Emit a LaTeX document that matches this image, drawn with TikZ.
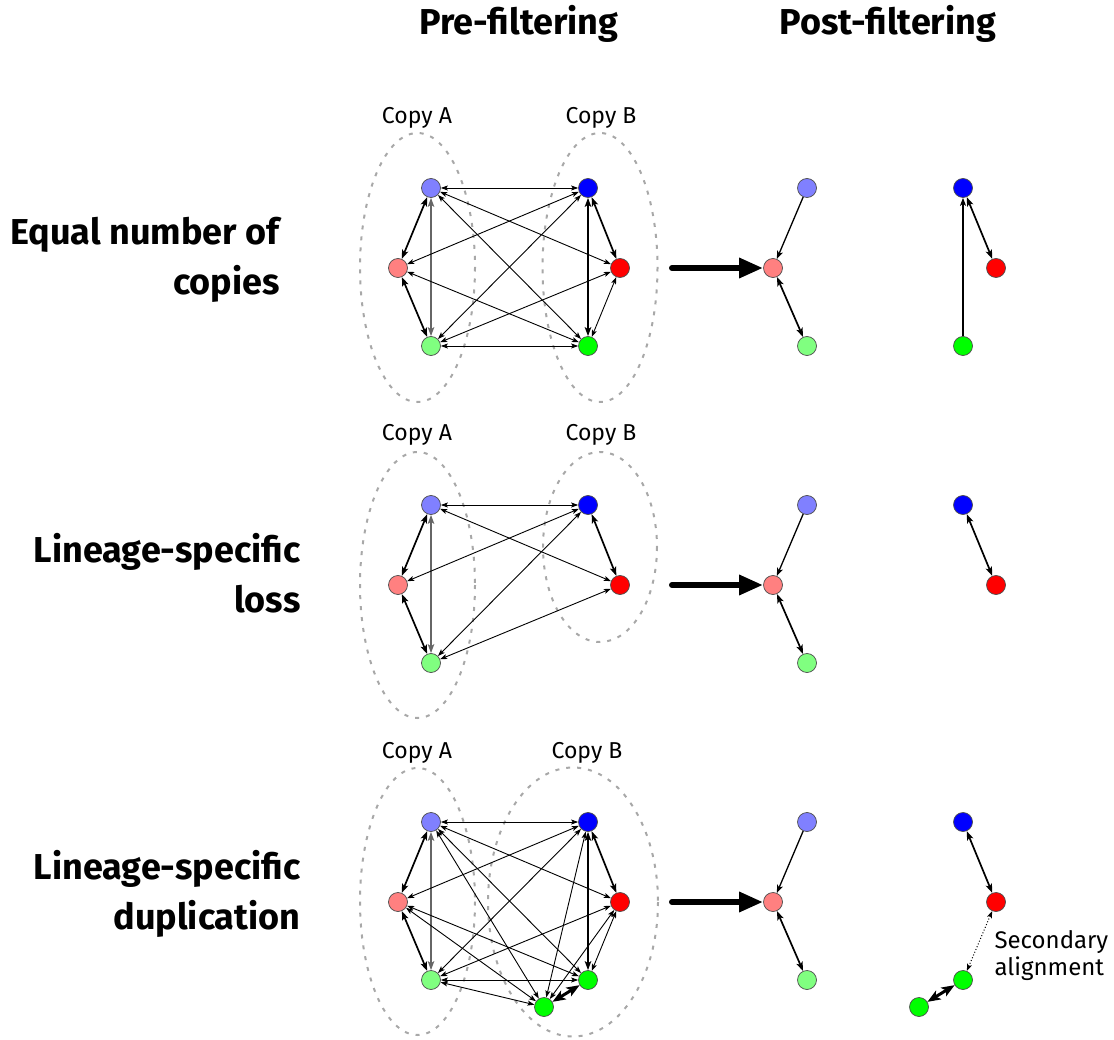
\documentclass[tikz,border=0pt]{standalone}
\usepackage{fontspec}
\setmainfont{Fira Sans}
\usetikzlibrary{arrows.meta}

\definecolor{clblue}{HTML}{8080FF}
\definecolor{cpink}{HTML}{FF8080}
\definecolor{clgreen}{HTML}{80FF80}
\definecolor{cblue}{HTML}{0000FF}
\definecolor{cred}{HTML}{FF0000}
\definecolor{cgreen}{HTML}{00FF00}
\definecolor{setgray}{HTML}{A8A8A8}

\begin{document}
\begin{tikzpicture}[x=1pt,y=-1pt,
  vtx/.style={circle, draw=black!70, line width=0.7pt, minimum size=19pt, inner sep=0pt},
  vlb/.style={vtx, fill=clblue},
  vpk/.style={vtx, fill=cpink},
  vlg/.style={vtx, fill=clgreen},
  vbl/.style={vtx, fill=cblue},
  vrd/.style={vtx, fill=cred},
  vgr/.style={vtx, fill=cgreen},
  thinlink/.style={line width=0.9pt, {Stealth[length=7pt,width=5pt,inset=1.5pt]}-{Stealth[length=7pt,width=5pt,inset=1.5pt]}},
  thicklink/.style={line width=1.7pt, {Stealth[length=9pt,width=6.5pt,inset=2pt]}-{Stealth[length=9pt,width=6.5pt,inset=2pt]}},
  graylink/.style={thicklink, draw=black!60},
  heavylink/.style={line width=3pt, {Stealth[length=13pt,width=10pt,inset=3pt]}-{Stealth[length=13pt,width=10pt,inset=3pt]}},
  onelink/.style={line width=1.3pt, -{Stealth[length=8pt,width=6pt,inset=2pt]}},
  seclink/.style={line width=1pt, dotted, {Stealth[length=7pt,width=5pt,inset=1.5pt]}-{Stealth[length=7pt,width=5pt,inset=1.5pt]}},
  copyset/.style={draw=setgray, line width=2pt, dash pattern=on 4pt off 7pt},
  bigarrow/.style={line width=6pt, line cap=round, -{Triangle[length=24pt,width=19pt]}},
  headtxt/.style={anchor=base, font=\fontsize{36}{42}\selectfont\bfseries},
  rowtxt/.style={anchor=base east, font=\fontsize{36}{42}\selectfont\bfseries},
  copytxt/.style={anchor=base, font=\fontsize{23}{27}\selectfont},
  notetxt/.style={anchor=base west, font=\fontsize{24}{28}\selectfont}
]
\useasboundingbox (0,0) rectangle (1114,1040);

% column headings
\node[headtxt] (pre)  at (519,35) {Pre-filtering};
\node[headtxt] (post) at (888,35) {Post-filtering};

% row labels
\node[rowtxt] (lab1a) at (283,245) {Equal number of};
\node[rowtxt] (lab1b) at (283,295) {copies};
\node[rowtxt] (lab2a) at (304,562) {Lineage-specific};
\node[rowtxt] (lab2b) at (304,612) {loss};
\node[rowtxt] (lab3a) at (304,879) {Lineage-specific};
\node[rowtxt] (lab3b) at (304,929) {duplication};

% copy sets
\draw[copyset] (417.5,267.5) ellipse [x radius=57.5, y radius=134.5];
\draw[copyset] (600,267.5) ellipse [x radius=57.5, y radius=134.5];
\draw[copyset] (417.5,585) ellipse [x radius=57.5, y radius=133];
\draw[copyset] (600,547) ellipse [x radius=57, y radius=95];
\draw[copyset] (417.5,901.5) ellipse [x radius=57.5, y radius=133.5];
\draw[copyset] (573,902) ellipse [x radius=85, y radius=134.5];

\node[copytxt] (ca1) at (417,124) {Copy A};
\node[copytxt] (cb1) at (601,124) {Copy B};
\node[copytxt] (ca2) at (417,441) {Copy A};
\node[copytxt] (cb2) at (601,441) {Copy B};
\node[copytxt] (ca3) at (417,758) {Copy A};
\node[copytxt] (cb3) at (587,758) {Copy B};

% ---------- row 1: equal number of copies ----------
\node[vlb] (r1a1) at (431,188) {};
\node[vpk] (r1a2) at (398,268) {};
\node[vlg] (r1a3) at (431,346) {};
\node[vbl] (r1b1) at (588,188) {};
\node[vrd] (r1b2) at (620,268) {};
\node[vgr] (r1b3) at (588,346) {};

\draw[thicklink] (r1a1) -- (r1a2);
\draw[thicklink] (r1a2) -- (r1a3);
\draw[graylink]  (r1a1) -- (r1a3);
\draw[thicklink] (r1b1) -- (r1b2);
\draw[thicklink] (r1b1) -- (r1b3);
\draw[thinlink]  (r1b2) -- (r1b3);
\draw[thinlink]  (r1a1) -- (r1b1);
\draw[thinlink]  (r1a1) -- (r1b2);
\draw[thinlink]  (r1a1) -- (r1b3);
\draw[thinlink]  (r1a2) -- (r1b1);
\draw[thinlink]  (r1a2) -- (r1b3);
\draw[thinlink]  (r1a3) -- (r1b1);
\draw[thinlink]  (r1a3) -- (r1b2);
\draw[thinlink]  (r1a3) -- (r1b3);

\node[vlb] (q1a1) at (807,188) {};
\node[vpk] (q1a2) at (773,268) {};
\node[vlg] (q1a3) at (807,346) {};
\node[vbl] (q1b1) at (963,188) {};
\node[vrd] (q1b2) at (996,268) {};
\node[vgr] (q1b3) at (963,346) {};
\draw[onelink]   (q1a1) -- (q1a2);
\draw[thicklink] (q1a2) -- (q1a3);
\draw[onelink]   (q1b3) -- (q1b1);
\draw[thicklink] (q1b1) -- (q1b2);

\coordinate (s1) at (672,268);
\draw[bigarrow] (s1) -- (q1a2);

% ---------- row 2: lineage-specific loss ----------
\node[vlb] (r2a1) at (431,505) {};
\node[vpk] (r2a2) at (398,585) {};
\node[vlg] (r2a3) at (431,663) {};
\node[vbl] (r2b1) at (588,505) {};
\node[vrd] (r2b2) at (620,585) {};

\draw[thicklink] (r2a1) -- (r2a2);
\draw[thicklink] (r2a2) -- (r2a3);
\draw[graylink]  (r2a1) -- (r2a3);
\draw[thicklink] (r2b1) -- (r2b2);
\draw[thinlink]  (r2a1) -- (r2b1);
\draw[thinlink]  (r2a1) -- (r2b2);
\draw[thinlink]  (r2a2) -- (r2b1);
\draw[thinlink]  (r2a3) -- (r2b1);
\draw[thinlink]  (r2a3) -- (r2b2);

\node[vlb] (q2a1) at (807,505) {};
\node[vpk] (q2a2) at (773,585) {};
\node[vlg] (q2a3) at (807,663) {};
\node[vbl] (q2b1) at (963,505) {};
\node[vrd] (q2b2) at (996,585) {};
\draw[onelink]   (q2a1) -- (q2a2);
\draw[thicklink] (q2a2) -- (q2a3);
\draw[thicklink] (q2b1) -- (q2b2);

\coordinate (s2) at (672,585);
\draw[bigarrow] (s2) -- (q2a2);

% ---------- row 3: lineage-specific duplication ----------
\node[vlb] (r3a1) at (431,822) {};
\node[vpk] (r3a2) at (398,902) {};
\node[vlg] (r3a3) at (431,980) {};
\node[vbl] (r3b1) at (588,822) {};
\node[vrd] (r3b2) at (620,902) {};
\node[vgr] (r3b3) at (588,980) {};
\node[vgr] (r3b4) at (544,1007) {};

\draw[thicklink] (r3a1) -- (r3a2);
\draw[thicklink] (r3a2) -- (r3a3);
\draw[graylink]  (r3a1) -- (r3a3);
\draw[thicklink] (r3b1) -- (r3b2);
\draw[thicklink] (r3b1) -- (r3b3);
\draw[thinlink]  (r3b2) -- (r3b3);
\draw[thinlink]  (r3b1) -- (r3b4);
\draw[thinlink]  (r3b2) -- (r3b4);
\draw[heavylink] (r3b3) -- (r3b4);
\draw[thinlink]  (r3a1) -- (r3b1);
\draw[thinlink]  (r3a1) -- (r3b2);
\draw[thinlink]  (r3a1) -- (r3b3);
\draw[thinlink]  (r3a1) -- (r3b4);
\draw[thinlink]  (r3a2) -- (r3b1);
\draw[thinlink]  (r3a2) -- (r3b3);
\draw[thinlink]  (r3a2) -- (r3b4);
\draw[thinlink]  (r3a3) -- (r3b1);
\draw[thinlink]  (r3a3) -- (r3b2);
\draw[thinlink]  (r3a3) -- (r3b3);
\draw[thinlink]  (r3a3) -- (r3b4);

\node[vlb] (q3a1) at (807,822) {};
\node[vpk] (q3a2) at (773,902) {};
\node[vlg] (q3a3) at (807,980) {};
\node[vbl] (q3b1) at (963,822) {};
\node[vrd] (q3b2) at (996,902) {};
\node[vgr] (q3b3) at (963,980) {};
\node[vgr] (q3b4) at (919,1007) {};
\draw[onelink]   (q3a1) -- (q3a2);
\draw[thicklink] (q3a2) -- (q3a3);
\draw[thicklink] (q3b1) -- (q3b2);
\draw[seclink]   (q3b2) -- (q3b3);
\draw[heavylink] (q3b3) -- (q3b4);

\node[notetxt] (sec1) at (991,948) {Secondary};
\node[notetxt] (sec2) at (991,975) {alignment};

\coordinate (s3) at (672,902);
\draw[bigarrow] (s3) -- (q3a2);
\end{tikzpicture}
\end{document}
